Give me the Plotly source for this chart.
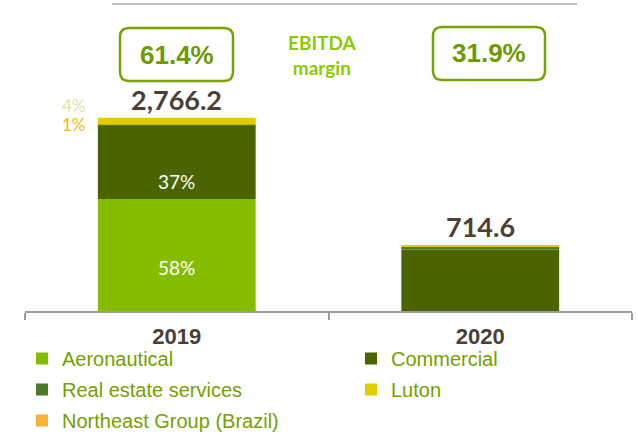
import plotly.graph_objects as go

years = ["2019", "2020"]
segments = ["Aeronautical", "Commercial", "Real estate services", "Luton", "Northeast Group (Brazil)"]
aeronautical = [1604.0, -225.4]
commercial = [1048.0, 880.0]
real_estate = [14.0, 40.0]
luton = [100.2, 20.0]
northeast = [0.0, 0.0]
share_labels_2019 = {"Aeronautical": "58%", "Commercial": "37%"}
side_labels = ["4%", "1%"]
ebitda_margin = ["61.4%", "31.9%"]

series = [aeronautical, commercial, real_estate, luton, northeast]
colors = ["#86bc00", "#4a6500", "#4b7a2b", "#e2cc00", "#f6b336"]
legend_of = ["legend", "legend2", "legend", "legend2", "legend"]

W, H = 638, 435
L, R, T, B = 25, 6, 0, 124
PW, PH = W - L - R, H - T - B
UNITS_PER_PX = 14.31
YMAX = PH * UNITS_PER_PX

def px(x):
    return (x - L) / PW

def py(y):
    return (H - B - y) / PH

fig = go.Figure()
for i, (name, vals) in enumerate(zip(segments, series)):
    fig.add_trace(go.Bar(
        name=name, x=years, y=vals, marker=dict(color=colors[i], line=dict(width=0)),
        width=0.52,
        legend=legend_of[i], legendgroup=name,
        hoverinfo="skip",
    ))

# share labels inside the 2019 bar
base = 0.0
label_shift = {"Aeronautical": -13, "Commercial": -19}
for name, vals in zip(segments, series):
    v = vals[0]
    if name in share_labels_2019:
        fig.add_annotation(x=0, y=base + v / 2, text=share_labels_2019[name], showarrow=False,
                           yanchor="middle", yshift=label_shift[name],
                           font=dict(size=19, color="white", family="Lato"))
    base += max(v, 0)

totals = [sum(s[k] for s in series) for k in range(len(years))]
pos_tops = [sum(max(s[k], 0) for s in series) for k in range(len(years))]
for k in range(len(years)):
    fig.add_annotation(x=k, y=pos_tops[k], text=f"<b>{totals[k]:,.1f}</b>",
                       showarrow=False, yanchor="bottom", yshift=0,
                       font=dict(size=27, color="#4b4034", family="Lato"))

# side labels at 2019 bar top
fig.add_annotation(x=0, y=pos_tops[0], text=side_labels[0], showarrow=False,
                   xshift=-103, yshift=0, yanchor="bottom",
                   font=dict(size=17, color="#dfe5a2", family="Lato"))
fig.add_annotation(x=0, y=pos_tops[0], text=side_labels[1], showarrow=False,
                   xshift=-103, yshift=-19, yanchor="bottom",
                   font=dict(size=17, color="#f4b800", family="Lato"))

# top rule
fig.add_shape(type="line", xref="paper", yref="paper", x0=px(112), x1=px(577),
              y0=py(4), y1=py(4), line=dict(color="#a8a8a8", width=1.5))

def rounded_box(x0, y0, x1, y1, r=9):
    rx, ry = r / PW, r / PH
    a, b, c, d = px(x0), py(y1), px(x1), py(y0)
    return (f"M{a+rx},{b} L{c-rx},{b} Q{c},{b} {c},{b+ry} L{c},{d-ry} Q{c},{d} {c-rx},{d} "
            f"L{a+rx},{d} Q{a},{d} {a},{d-ry} L{a},{b+ry} Q{a},{b} {a+rx},{b} Z")

boxes = [(120, 28, 233, 81), (433, 27, 545, 80)]
for (x0, y0, x1, y1), m in zip(boxes, ebitda_margin):
    fig.add_shape(type="path", xref="paper", yref="paper", path=rounded_box(x0, y0, x1, y1),
                  line=dict(color="#76a300", width=2.5), fillcolor="rgba(0,0,0,0)")
    fig.add_annotation(xref="paper", yref="paper", x=px((x0 + x1) / 2), y=py((y0 + y1) / 2),
                       xanchor="center", text=f"<b>{m}</b>", showarrow=False, yanchor="middle",
                       font=dict(size=26, color="#6d9a00", family="Liberation Sans"))

fig.add_annotation(xref="paper", yref="paper", x=px(322), y=py(55), showarrow=False,
                   xanchor="center", text="<b>EBITDA<br>margin</b>", align="center", yanchor="middle",
                   font=dict(size=19, color="#8ccb00", family="Lato"))

fig.update_layout(
    width=W, height=H, margin=dict(l=L, r=R, t=T, b=B, autoexpand=False),
    barmode="relative",
    plot_bgcolor="white", paper_bgcolor="white",
    xaxis=dict(type="category", range=[-0.5, 1.5], showline=True, linecolor="#9c9c9c", linewidth=2,
               ticks="outside", tickson="boundaries", ticklen=7, tickcolor="#9c9c9c", tickwidth=2,
               ticklabelstandoff=5,
               tickfont=dict(size=22, color="#4a4036", family="Liberation Sans", weight="bold"),
               showgrid=False, zeroline=False, automargin=False),
    yaxis=dict(visible=False, range=[0, YMAX], showgrid=False, zeroline=False),
    legend=dict(x=px(22), y=py(339), xanchor="left", yanchor="top",
                orientation="v", traceorder="grouped", tracegroupgap=2,
                font=dict(size=20, color="#74a100", family="Liberation Sans"),
                bgcolor="rgba(0,0,0,0)", itemwidth=30),
    legend2=dict(x=px(351), y=py(339), xanchor="left", yanchor="top",
                 orientation="v", traceorder="grouped", tracegroupgap=2,
                 font=dict(size=20, color="#74a100", family="Liberation Sans"),
                 bgcolor="rgba(0,0,0,0)", itemwidth=30),
    showlegend=True,
)

fig.write_html("out.html", config={"displayModeBar": False},
               post_script="document.body.style.margin='0px';")
